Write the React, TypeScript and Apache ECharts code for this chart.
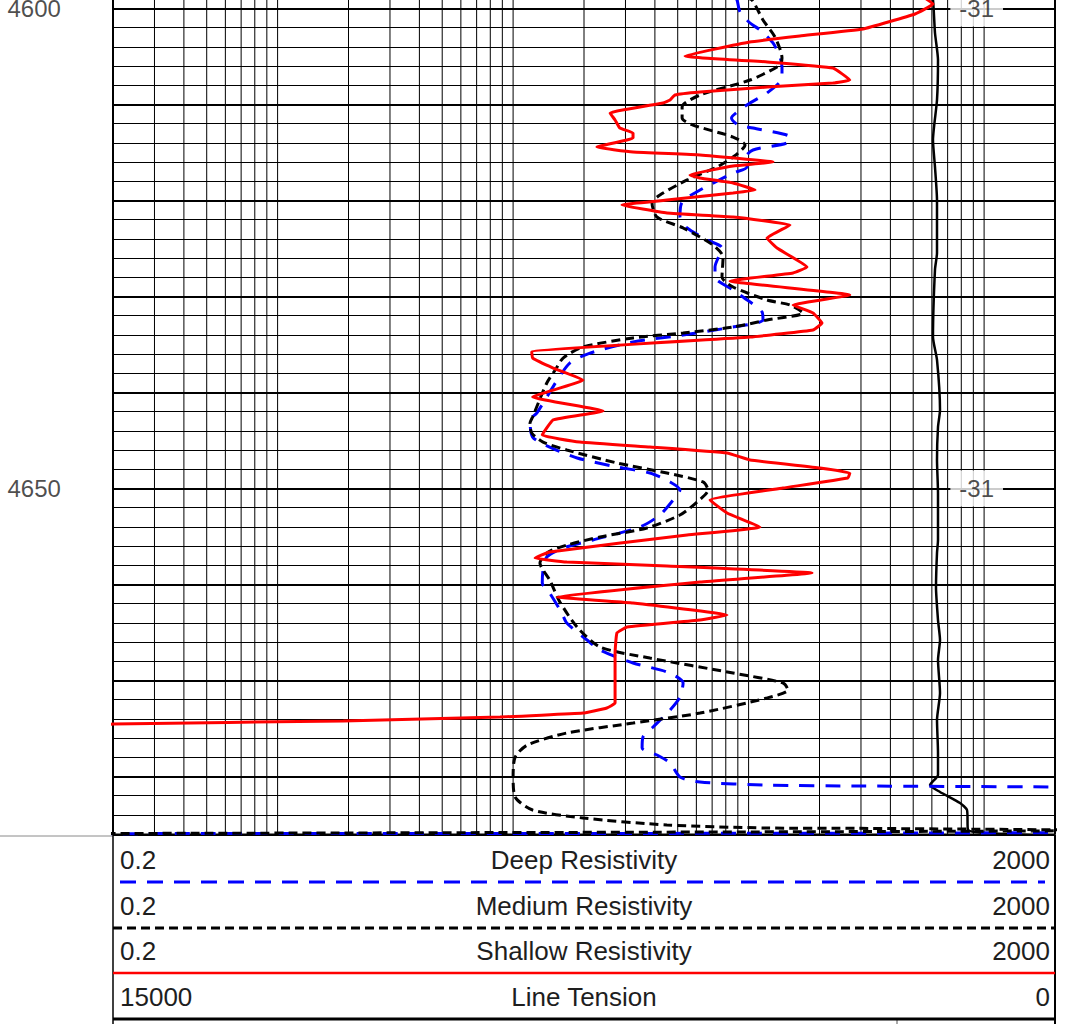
import React, { useEffect, useRef } from "react";
import * as echarts from "echarts";

const FONT = '"Liberation Sans", Arial, Helvetica, sans-serif';

// [resistivity (ohm.m), depth]
const shallowResistivity: [number, number][] = [
  [561, 4598.91], [607, 4599.53], [509, 4600.57], [306, 4602.14], [165, 4602.86], [101, 4603.49],
  [53.7, 4604.95], [120, 4605.57], [228, 4606.2], [269, 4607.45], [228, 4607.76], [120, 4608.18],
  [62.2, 4608.7], [48.7, 4609.01], [46.4, 4609.53], [43.3, 4609.84], [25.8, 4610.89], [27.1, 4611.61],
  [28.4, 4612.45], [32.3, 4612.97], [32.3, 4613.49], [22.7, 4614.43], [32.3, 4614.95], [62.2, 4615.26],
  [126.9, 4615.99], [85.9, 4616.41], [56.4, 4617.34], [62.2, 4617.66], [85.9, 4618.18], [106.5, 4618.91],
  [85.9, 4619.22], [45.0, 4619.95], [29.0, 4620.47], [45.0, 4621.3], [85.9, 4621.72], [149.9, 4622.55],
  [119.7, 4623.91], [132, 4624.95], [177, 4626.93], [154.4, 4627.55], [83.4, 4628.39], [269, 4629.84],
  [154.4, 4630.89], [187.7, 4631.72], [205, 4632.76], [187.7, 4633.49], [101.4, 4634.22], [12.0, 4635.78],
  [12.1, 4636.41], [14.8, 4637.45], [19.8, 4638.7], [12.1, 4640.47], [24.1, 4641.93], [14.8, 4642.86],
  [13.3, 4644.43], [19.2, 4645.16], [38.1, 4645.68], [81, 4646.3], [101.4, 4647.03], [201, 4647.86],
  [269, 4648.39], [264, 4648.91], [140, 4649.95], [68.6, 4651.2], [81, 4652.55], [111.8, 4654.01],
  [54.8, 4654.84], [14.3, 4656.61], [12.4, 4657.24], [16.9, 4657.66], [45, 4658.07], [185.9, 4658.8],
  [62.2, 4659.74], [15.4, 4661.3], [32.3, 4661.93], [81, 4663.18], [62.2, 4663.7], [30.5, 4664.43],
  [27.6, 4665.05], [27.1, 4667.14], [27.1, 4672.34], [25.0, 4672.86], [19.8, 4673.39], [8.8, 4673.8],
  [1.9, 4674.22], [0.2, 4674.53], [0.12, 4675.2],
];

const mediumResistivity: [number, number][] = [
  [96.6, 4598.91], [103.4, 4599.11], [115.1, 4601.2], [129.4, 4602.97], [138.6, 4605.16], [135.9, 4605.89],
  [101.4, 4607.45], [62.2, 4609.01], [52.2, 4610.26], [52.2, 4611.41], [58.1, 4612.14], [85.9, 4613.39],
  [96.6, 4614.22], [85.9, 4615.47], [73.4, 4616.51], [54.8, 4617.86], [42, 4619.43], [38.9, 4620.26],
  [40.8, 4621.72], [52.7, 4622.86], [70.6, 4624.64], [77.9, 4625.89], [77.1, 4627.97], [85.9, 4629.01],
  [119.7, 4630.36], [149.9, 4630.89], [170.2, 4631.72], [119.7, 4632.45], [85.9, 4633.18], [52.7, 4633.8],
  [32.3, 4634.32], [19.8, 4635.26], [16.3, 4636.41], [15.1, 4637.66], [13.9, 4639.01], [12.1, 4642.55],
  [11.8, 4643.18], [12.0, 4644.22], [13.4, 4645.16], [16.9, 4645.99], [27.6, 4647.34], [45, 4648.39],
  [64, 4649.32], [67.2, 4650.16], [60.4, 4651.41], [51.1, 4652.76], [37, 4654.11], [23.4, 4655.05],
  [16.9, 4655.89], [14.1, 4656.61], [13.0, 4657.76], [14.3, 4659.53], [15.8, 4661.82], [18.7, 4664.43],
  [23.4, 4666.51], [38.1, 4667.66], [85.9, 4669.22], [140, 4670.26], [147, 4670.99], [119.7, 4671.82],
  [62.2, 4673.39], [32.3, 4674.43], [16.9, 4675.47], [11.5, 4676.72], [10.2, 4677.97], [10.0, 4680.05],
  [10.2, 4682.13], [12.1, 4683.49], [19.8, 4684.32], [45, 4685.05], [119.7, 4685.36], [297, 4685.4],
  [1960, 4685.55], [3000, 4685.62], [0.1, 4685.95],
];

const deepResistivity: [number, number][] = [
  [87.6, 4598.91], [89.3, 4599.11], [91.9, 4600.36], [101.4, 4601.51], [111.8, 4602.24], [126.9, 4603.59],
  [135.9, 4605.05], [138.6, 4606.09], [138.6, 4607.24], [119.7, 4608.8], [101.4, 4609.84], [91.9, 4610.57],
  [84.6, 4611.41], [90.2, 4612.14], [104.4, 4612.45], [149.9, 4613.39], [145.6, 4614.01], [104.4, 4614.74],
  [96.6, 4615.57], [98.5, 4616.51], [85.9, 4617.14], [62.2, 4618.91], [52.2, 4620.16], [51.1, 4621.72],
  [54.8, 4622.86], [66.6, 4624.11], [77.1, 4624.95], [72, 4626.93], [72, 4627.97], [85.9, 4629.32],
  [94.7, 4630.05], [114, 4631.61], [115.1, 4632.45], [81, 4633.28], [52.7, 4634.01], [32.3, 4634.74],
  [21.2, 4635.89], [17.4, 4636.93], [15.4, 4638.7], [13.9, 4640.47], [12.6, 4642.14], [11.8, 4642.86],
  [12.1, 4644.64], [14.3, 4645.68], [18.7, 4646.82], [27.6, 4647.76], [38.1, 4648.39], [46.4, 4649.32],
  [51.1, 4650.16], [47.8, 4651.2], [42, 4652.76], [34.6, 4654.01], [21.8, 4655.36], [16.3, 4656.2],
  [13.9, 4657.14], [13.4, 4658.49], [13.3, 4659.84], [14.3, 4660.89], [16.1, 4662.97], [16.9, 4664.01],
  [20.6, 4665.78], [23.4, 4666.82], [32.3, 4668.18], [45, 4669.11], [52.7, 4670.26], [51.1, 4671.72],
  [46.4, 4673.07], [39.3, 4674.84], [35.6, 4675.89], [35.3, 4677.03], [40.8, 4677.76], [46.4, 4678.59],
  [51.1, 4680.05], [62.2, 4680.57], [119.7, 4680.89], [297, 4680.99], [1900, 4681.09], [3000, 4681.2],
  [3000, 4685.8], [0.1, 4685.95],
];

// [line tension, depth]
const lineTension: [number, number][] = [
  [1975, 4598.91], [1943, 4599.11], [1911, 4602.55], [1863, 4605.36], [1879, 4609.53], [1943, 4613.7],
  [1911, 4616.51], [1879, 4619.95], [1879, 4625.47], [1911, 4627.2], [1943, 4634.22], [1879, 4636.61],
  [1831, 4641.82], [1863, 4643.59], [1879, 4647.03], [1863, 4650.47], [1863, 4655.36], [1879, 4656.72],
  [1895, 4660.26], [1863, 4663.7], [1831, 4665.78], [1863, 4667.86], [1831, 4671.3], [1879, 4674.11],
  [1863, 4677.55], [1863, 4679.84], [1990, 4680.89], [1831, 4681.61], [1513, 4682.76], [1401, 4683.49],
  [1385, 4685.57], [1083, 4685.89], [32, 4686.2],
];

// depth labels and curve label "-31", every 50 ft
const depthLabelValues = [4600, 4650];
const curveLabelText = "-31";
const curveLabelPosition = 930;
const depthLabelPosition = 0.0925;

// depth axis: starts above the visible window so that gridlines fall on even feet
const depthAxisMin = 4590;
const depthMax = 4686.04;
const minorDepthStep = 2;
const majorDepthStep = 10;
const resMin = 0.2;
const resMax = 2000;
const tensionMax = 15000;

const legendRows = [
  { name: "Deep Resistivity", left: "0.2", right: "2000" },
  { name: "Medium Resistivity", left: "0.2", right: "2000" },
  { name: "Shallow Resistivity", left: "0.2", right: "2000" },
  { name: "Line Tension", left: "15000", right: "0" },
];

function buildLogGrid(): number[] {
  const out: number[] = [];
  [0.1, 1, 10, 100, 1000].forEach((dec) => {
    for (let m = 1; m <= 9; m++) {
      const v = +(dec * m).toPrecision(6);
      if (v > resMin + 1e-9 && v < resMax - 1e-9) out.push(v);
    }
  });
  return out;
}

// vertical gridlines as broken polylines running through the log scale
function verticalSegments(values: number[]): any[] {
  const out: any[] = [];
  values.forEach((v) => {
    out.push([v, depthAxisMin], [v, depthMax], "-");
  });
  return out;
}

export default function App() {
  const ref = useRef<HTMLDivElement>(null);

  useEffect(() => {
    if (!ref.current) return;
    const chart = echarts.init(ref.current, undefined, { renderer: "svg" });

    const gridLeft = 113;
    const gridRight = 1055;
    const gridBottomY = 834.5;
    const pxPerFoot = 9.6;
    const gridTop = 8.5 - (4600 - depthAxisMin) * pxPerFoot;
    const textColor = "#1e1e1e";

    const rowCenters = [860, 906, 951, 997];
    const graphics: any[] = [];
    graphics.push({ type: "line", shape: { x1: 0, y1: 836, x2: gridLeft, y2: 836 }, style: { stroke: "#8a8a8a", lineWidth: 1 } });
    graphics.push({ type: "line", shape: { x1: gridLeft, y1: gridBottomY, x2: gridRight, y2: gridBottomY }, style: { stroke: "#000", lineWidth: 2 } });
    graphics.push({ type: "line", shape: { x1: gridLeft, y1: gridBottomY, x2: gridLeft, y2: 1024 }, style: { stroke: "#000", lineWidth: 1.5 } });
    graphics.push({ type: "line", shape: { x1: gridRight, y1: gridBottomY, x2: gridRight, y2: 1024 }, style: { stroke: "#000", lineWidth: 2 } });
    graphics.push({ type: "line", shape: { x1: 897, y1: 1019, x2: 897, y2: 1024 }, style: { stroke: "#555", lineWidth: 1 } });
    graphics.push({ type: "line", shape: { x1: 120, y1: 882, x2: 1045, y2: 882 }, style: { stroke: "#0000ff", lineWidth: 3, lineDash: [16, 11] } });
    graphics.push({ type: "line", shape: { x1: gridLeft, y1: 928, x2: gridRight, y2: 928 }, style: { stroke: "#000", lineWidth: 3, lineDash: [9, 5] } });
    graphics.push({ type: "line", shape: { x1: gridLeft, y1: 973, x2: gridRight, y2: 973 }, style: { stroke: "#ff0000", lineWidth: 2.5 } });
    graphics.push({ type: "line", shape: { x1: gridLeft, y1: 1019, x2: gridRight, y2: 1019 }, style: { stroke: "#000", lineWidth: 3 } });

    legendRows.forEach((row, i) => {
      const y = rowCenters[i];
      const base = { fontSize: 26, fontFamily: FONT, fill: textColor, verticalAlign: "middle", textVerticalAlign: "middle" };
      graphics.push({ type: "text", x: 120, y, style: { ...base, text: row.left, align: "left", textAlign: "left" } });
      graphics.push({ type: "text", x: 584, y, style: { ...base, text: row.name, align: "center", textAlign: "center" } });
      graphics.push({ type: "text", x: 1050, y, style: { ...base, text: row.right, align: "right", textAlign: "right" } });
    });

    const depthAxis = (interval: number, width: number) => ({
      type: "value",
      inverse: true,
      min: depthAxisMin,
      max: depthMax,
      interval,
      position: "left",
      axisLine: { show: false },
      axisTick: { show: false },
      axisLabel: { show: false },
      splitLine: { show: true, lineStyle: { color: "#000", width, type: "solid" } },
    });

    const gridSeries = (name: string, values: number[], width: number) => ({
      name,
      type: "line",
      xAxisIndex: 0,
      yAxisIndex: 0,
      data: verticalSegments(values),
      connectNulls: false,
      showSymbol: false,
      symbol: "none",
      clip: false,
      lineStyle: { color: "#000", width },
      z: 1,
      silent: true,
    });

    const option: any = {
      animation: false,
      backgroundColor: "#fff",
      grid: {
        left: gridLeft,
        width: gridRight - gridLeft,
        top: gridTop,
        height: gridBottomY - gridTop,
        containLabel: false,
        outerBoundsMode: "none",
      },
      xAxis: [
        { type: "log", logBase: 10, min: resMin, max: resMax, show: false },
        { type: "value", min: 0, max: tensionMax, inverse: true, show: false },
      ],
      yAxis: [depthAxis(minorDepthStep, 1), depthAxis(majorDepthStep, 2)],
      series: [
        gridSeries("resistivity grid", buildLogGrid(), 1),
        gridSeries("track border", [resMin, resMax], 2),
        {
          name: "Line Tension",
          type: "line",
          xAxisIndex: 1,
          yAxisIndex: 0,
          data: lineTension,
          showSymbol: false,
          symbol: "none",
          smooth: 0.2,
          lineStyle: { color: "#000", width: 2.5 },
          z: 3,
          silent: true,
        },
        {
          name: "Deep Resistivity",
          type: "line",
          xAxisIndex: 0,
          yAxisIndex: 0,
          data: deepResistivity,
          showSymbol: false,
          symbol: "none",
          smooth: 0.25,
          lineStyle: { color: "#0000ff", width: 3, type: [15, 11] },
          z: 4,
          silent: true,
        },
        {
          name: "Medium Resistivity",
          type: "line",
          xAxisIndex: 0,
          yAxisIndex: 0,
          data: mediumResistivity,
          showSymbol: false,
          symbol: "none",
          smooth: 0.25,
          lineStyle: { color: "#000", width: 3, type: [9, 5] },
          z: 5,
          silent: true,
        },
        {
          name: "Shallow Resistivity",
          type: "line",
          xAxisIndex: 0,
          yAxisIndex: 0,
          data: shallowResistivity,
          showSymbol: false,
          symbol: "none",
          smooth: 0.1,
          lineStyle: { color: "#ff0000", width: 3 },
          z: 6,
          silent: true,
        },
        {
          name: "curve labels",
          type: "scatter",
          xAxisIndex: 0,
          yAxisIndex: 0,
          symbolSize: 0,
          data: depthLabelValues.map((d) => [curveLabelPosition, d]),
          z: 10,
          silent: true,
          label: {
            show: true,
            position: "inside",
            formatter: () => curveLabelText,
            fontSize: 24,
            fontFamily: FONT,
            color: textColor,
            backgroundColor: "#fff",
            padding: [6, 9, 6, 9],
          },
        },
        {
          name: "depth labels",
          type: "scatter",
          xAxisIndex: 0,
          yAxisIndex: 0,
          symbolSize: 0,
          clip: false,
          data: depthLabelValues.map((d) => [depthLabelPosition, d]),
          z: 10,
          silent: true,
          label: {
            show: true,
            position: "inside",
            formatter: (p: any) => String(p.value[1]),
            fontSize: 24,
            fontFamily: FONT,
            color: textColor,
          },
        },
      ],
      graphic: graphics,
    };

    chart.setOption(option);
    return () => chart.dispose();
  }, []);

  return (
    <div
      ref={ref}
      style={{ position: "absolute", left: 0, top: 0, width: 1071, height: 1024, background: "#fff", overflow: "hidden" }}
    />
  );
}
